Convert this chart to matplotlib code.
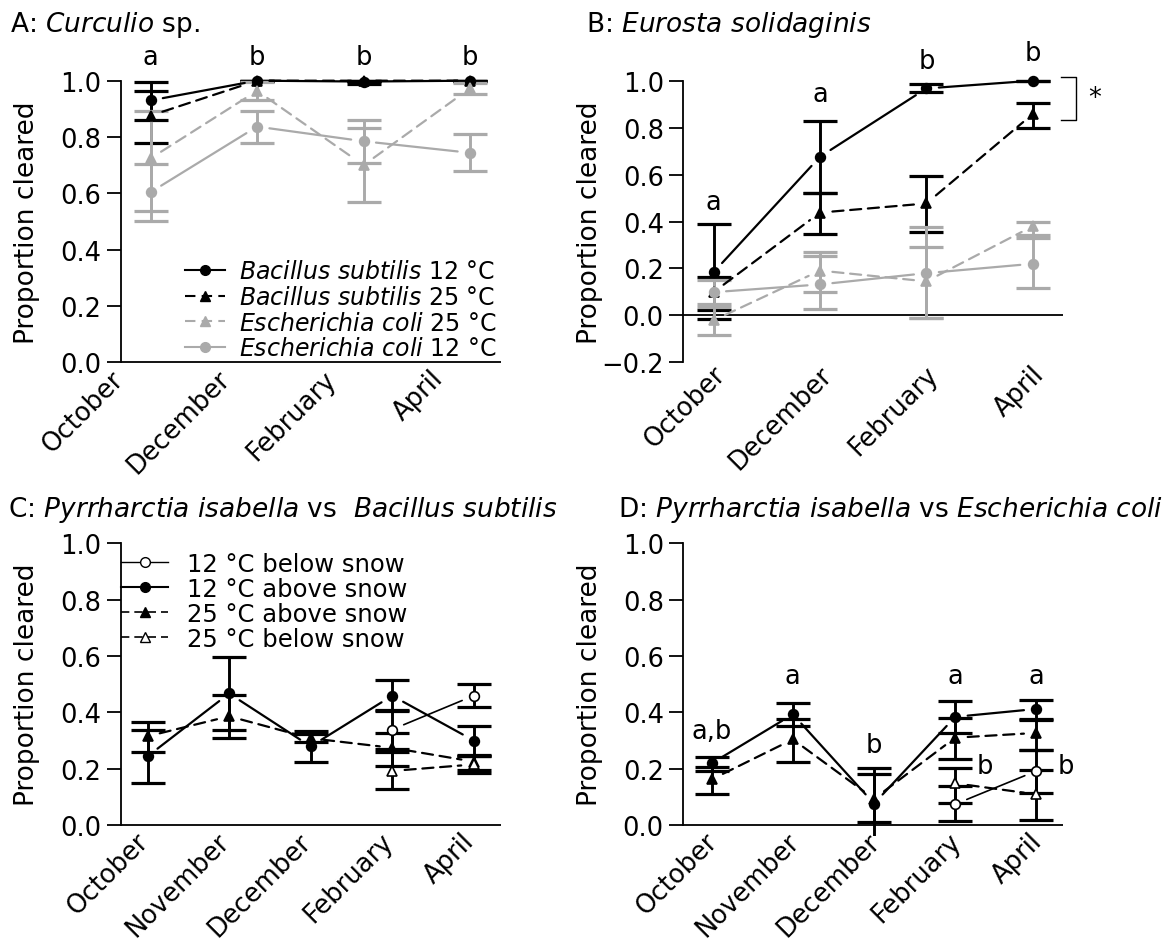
import matplotlib.pyplot as plt
from matplotlib.lines import Line2D
from matplotlib.transforms import ScaledTranslation
import numpy as np

plt.rcParams['font.family'] = 'DejaVu Sans'
plt.rcParams['mathtext.fontset'] = 'dejavusans'

GRAY = '#aaaaaa'

# ---- panel A: Curculio sp.
months_ab = ['October', 'December', 'February', 'April']
a_bs12 = [0.93, 1.0, 0.997, 1.0]
a_bs12_lo = [0.86, 1.0, 0.99, 1.0]
a_bs12_hi = [0.994, 1.0, 1.0, 1.0]
a_bs25 = [0.876, 1.0, 1.0, 1.0]
a_bs25_lo = [0.779, 1.0, 1.0, 1.0]
a_bs25_hi = [0.962, 1.0, 1.0, 1.0]
a_ec25 = [0.724, 0.964, 0.70, 0.973]
a_ec25_lo = [0.538, 0.933, 0.570, 0.953]
a_ec25_hi = [0.891, 0.995, 0.831, 0.993]
a_ec12 = [0.604, 0.837, 0.785, 0.744]
a_ec12_lo = [0.503, 0.779, 0.708, 0.678]
a_ec12_hi = [0.704, 0.893, 0.860, 0.811]
a_letters = ['a', 'b', 'b', 'b']
a_letter_y = [1.06, 1.06, 1.06, 1.06]

# ---- panel B: Eurosta solidaginis
b_bs12 = [0.184, 0.676, 0.967, 1.0]
b_bs12_lo = [-0.017, 0.523, 0.95, 1.0]
b_bs12_hi = [0.39, 0.829, 0.986, 1.0]
b_bs25 = [0.099, 0.438, 0.477, 0.858]
b_bs25_lo = [0.021, 0.345, 0.355, 0.798]
b_bs25_hi = [0.163, 0.523, 0.592, 0.905]
b_ec25 = [-0.021, 0.191, 0.145, 0.38]
b_ec25_lo = [-0.085, 0.099, -0.01, 0.342]
b_ec25_hi = [0.035, 0.27, 0.376, 0.399]
b_ec12 = [0.099, 0.132, 0.18, 0.22]
b_ec12_lo = [0.047, 0.026, -0.01, 0.116]
b_ec12_hi = [0.149, 0.253, 0.29, 0.328]
b_letters = ['a', 'a', 'b', 'b']
b_letter_y = [0.455, 0.915, 1.055, 1.09]

# ---- panels C and D: Pyrrharctia isabella
months_cd = ['October', 'November', 'December', 'February', 'April']
below_idx = [3, 4]
c_ab12 = [0.244, 0.467, 0.279, 0.459, 0.30]
c_ab12_lo = [0.149, 0.339, 0.222, 0.404, 0.245]
c_ab12_hi = [0.337, 0.595, 0.335, 0.516, 0.353]
c_ab25 = [0.315, 0.386, 0.308, 0.274, 0.225]
c_ab25_lo = [0.258, 0.308, 0.293, 0.21, 0.195]
c_ab25_hi = [0.364, 0.463, 0.323, 0.328, 0.25]
c_be12 = [0.339, 0.459]
c_be12_lo = [0.269, 0.418]
c_be12_hi = [0.409, 0.50]
c_be25 = [0.192, 0.215]
c_be25_lo = [0.127, 0.185]
c_be25_hi = [0.259, 0.245]

d_ab12 = [0.219, 0.393, 0.076, 0.384, 0.412]
d_ab12_lo = [0.192, 0.353, -0.05, 0.325, 0.377]
d_ab12_hi = [0.243, 0.434, 0.204, 0.439, 0.445]
d_ab25 = [0.162, 0.304, 0.093, 0.31, 0.327]
d_ab25_lo = [0.111, 0.224, 0.011, 0.233, 0.268]
d_ab25_hi = [0.206, 0.378, 0.182, 0.38, 0.374]
d_be12 = [0.074, 0.192]
d_be12_lo = [0.015, 0.115]
d_be12_hi = [0.137, 0.268]
d_be25 = [0.148, 0.109]
d_be25_lo = [0.078, 0.018]
d_be25_hi = [0.204, 0.194]
d_letters = ['a,b', 'a', 'b', 'a', 'a']
d_letter_y = [0.31, 0.505, 0.258, 0.505, 0.505]
d_side_letters = ['b', 'b']
d_side_y = [0.185, 0.185]

FS = 18.5
LFS = 17
DASH = (0, (5, 3))


def series(ax, x, y, lo, hi, color, marker, ls, mfc=None, lw=1.6):
    y = np.asarray(y, float)
    lo = np.asarray(lo, float)
    hi = np.asarray(hi, float)
    ax.errorbar(x, y, yerr=[y - lo, hi - y], fmt='none', ecolor=color,
                elinewidth=2.1, capsize=12, capthick=2.3)
    ax.plot(x, y, ls='none', marker=marker, ms=7, color=color,
            mfc=mfc if mfc else color, mec=color, mew=1.2, zorder=4)
    # lines with gaps around the points
    for i in range(len(x) - 1):
        ax.annotate('', xy=(x[i + 1], y[i + 1]), xytext=(x[i], y[i]),
                    arrowprops=dict(arrowstyle='-', color=color, lw=lw,
                                    linestyle=ls, shrinkA=9, shrinkB=9))


def setup(ax, months, ymin, xl, dx, dy):
    ymax = 1.0
    pad = 0.04 * (ymax - ymin)
    ax.set_ylim(ymin - pad, ymax + pad)
    ax.set_xlim(*xl)
    for s in ['top', 'right', 'bottom']:
        ax.spines[s].set_visible(False)
    ax.spines['left'].set_bounds(ymin, ymax)
    ax.spines['left'].set_linewidth(1.3)
    ax.axhline(0, color='black', lw=1.3, zorder=1)
    ticks = np.round(np.arange(ymin, ymax + 0.001, 0.2), 1)
    ax.set_yticks(ticks)
    ax.set_yticklabels([f'{t:.1f}'.replace('-', '\u2212') for t in ticks])
    ax.tick_params(axis='y', direction='out', length=10, width=1.3,
                   labelsize=FS, pad=4)
    ax.set_xticks(range(len(months)))
    ax.set_xticklabels(months, rotation=45, ha='right', rotation_mode='anchor')
    ax.tick_params(axis='x', length=0, pad=0, labelsize=FS)
    off = ScaledTranslation(dx / 72, dy / 72, fig.dpi_scale_trans)
    for lab in ax.get_xticklabels():
        lab.set_transform(lab.get_transform() + off)
    ax.set_ylabel('Proportion cleared', fontsize=19)
    ax.yaxis.set_label_coords(-0.212, 0.5)


fig = plt.figure(figsize=(11.74, 9.53), dpi=100)
axA = fig.add_axes([0.1028, 0.6069, 0.3239, 0.3192])
axB = fig.add_axes([0.5820, 0.6069, 0.3235, 0.3192])
axC = fig.add_axes([0.1028, 0.1214, 0.3236, 0.3193])
axD = fig.add_axes([0.5820, 0.1214, 0.3236, 0.3193])

# ---- A
xa = np.arange(len(months_ab))
setup(axA, months_ab, 0.0, (-0.28, 3.29), -29, 6)
series(axA, xa, a_bs12, a_bs12_lo, a_bs12_hi, 'black', 'o', '-')
series(axA, xa, a_bs25, a_bs25_lo, a_bs25_hi, 'black', '^', DASH)
series(axA, xa, a_ec25, a_ec25_lo, a_ec25_hi, GRAY, '^', DASH)
series(axA, xa, a_ec12, a_ec12_lo, a_ec12_hi, GRAY, 'o', '-')
for x, t, y in zip(xa, a_letters, a_letter_y):
    axA.text(x, y, t, ha='center', va='baseline', fontsize=FS, clip_on=False)
hA = [Line2D([], [], color='black', marker='o', ms=7, lw=1.5),
      Line2D([], [], color='black', marker='^', ms=7, lw=1.5, ls=DASH),
      Line2D([], [], color=GRAY, marker='^', ms=7, lw=1.5, ls=DASH),
      Line2D([], [], color=GRAY, marker='o', ms=7, lw=1.5)]
lA = [r'$\mathit{Bacillus\ subtilis}$ 12 °C',
      r'$\mathit{Bacillus\ subtilis}$ 25 °C',
      r'$\mathit{Escherichia\ coli}$ 25 °C',
      r'$\mathit{Escherichia\ coli}$ 12 °C']
axA.legend(hA, lA, loc='lower right', bbox_to_anchor=(1.02, 0.005),
           frameon=False, fontsize=LFS, handlelength=1.7, handletextpad=0.6,
           labelspacing=0.07, borderpad=0)
fig.text(0.0085, 0.9667, r'A: $\mathit{Curculio}$ sp.', fontsize=19,
         ha='left', va='baseline')

# ---- B
setup(axB, months_ab, -0.2, (-0.285, 3.285), -1, 9)
series(axB, xa, b_bs12, b_bs12_lo, b_bs12_hi, 'black', 'o', '-')
series(axB, xa, b_bs25, b_bs25_lo, b_bs25_hi, 'black', '^', DASH)
series(axB, xa, b_ec25, b_ec25_lo, b_ec25_hi, GRAY, '^', DASH)
series(axB, xa, b_ec12, b_ec12_lo, b_ec12_hi, GRAY, 'o', '-')
for x, t, y in zip(xa, b_letters, b_letter_y):
    axB.text(x, y, t, ha='center', va='baseline', fontsize=FS, clip_on=False)
axB.plot([3.27, 3.41, 3.41, 3.27], [1.014, 1.014, 0.834, 0.834],
         color='black', lw=1, clip_on=False)
axB.text(3.58, 0.926, '*', ha='center', va='center', fontsize=FS,
         clip_on=False)
fig.text(0.4995, 0.9667, r'B: $\mathit{Eurosta\ solidaginis}$', fontsize=19,
         ha='left', va='baseline')

# ---- C
xc = np.arange(len(months_cd))
setup(axC, months_cd, 0.0, (-0.33, 4.33), -9, 6)
series(axC, xc, c_ab12, c_ab12_lo, c_ab12_hi, 'black', 'o', '-')
series(axC, xc, c_ab25, c_ab25_lo, c_ab25_hi, 'black', '^', DASH)
series(axC, below_idx, c_be12, c_be12_lo, c_be12_hi, 'black', 'o', '-',
       mfc='white', lw=1.2)
series(axC, below_idx, c_be25, c_be25_lo, c_be25_hi, 'black', '^', DASH,
       mfc='white')
hC = [Line2D([], [], color='black', marker='o', ms=7, lw=1, mfc='white'),
      Line2D([], [], color='black', marker='o', ms=7, lw=1.5),
      Line2D([], [], color='black', marker='^', ms=7, lw=1.2, ls=DASH),
      Line2D([], [], color='black', marker='^', ms=7, lw=1.2, ls=DASH,
             mfc='white')]
lC = ['12 °C below snow', '12 °C above snow', '25 °C above snow',
      '25 °C below snow']
axC.legend(hC, lC, loc='upper left', bbox_to_anchor=(-0.03, 0.975),
           frameon=False, fontsize=17.5, handlelength=1.9,
           handletextpad=0.8, labelspacing=0.04, borderpad=0)
fig.text(0.007, 0.4575,
         r'C: $\mathit{Pyrrharctia\ isabella}$ vs  $\mathit{Bacillus\ subtilis}$',
         fontsize=19, ha='left', va='baseline')

# ---- D
setup(axD, months_cd, 0.0, (-0.35, 4.33), -5, 6)
series(axD, xc, d_ab12, d_ab12_lo, d_ab12_hi, 'black', 'o', '-')
series(axD, xc, d_ab25, d_ab25_lo, d_ab25_hi, 'black', '^', DASH)
series(axD, below_idx, d_be12, d_be12_lo, d_be12_hi, 'black', 'o', '-',
       mfc='white', lw=1.2)
series(axD, below_idx, d_be25, d_be25_lo, d_be25_hi, 'black', '^', DASH,
       mfc='white')
for x, t, y in zip(xc, d_letters, d_letter_y):
    axD.text(x, y, t, ha='center', va='baseline', fontsize=FS)
for x, t, y in zip(below_idx, d_side_letters, d_side_y):
    axD.text(x + 0.26, y, t, ha='left', va='baseline', fontsize=FS)
fig.text(0.5265, 0.4575,
         r'D: $\mathit{Pyrrharctia\ isabella}$ vs $\mathit{Escherichia\ coli}$',
         fontsize=19, ha='left', va='baseline')

fig.savefig('out.png', dpi=100)
